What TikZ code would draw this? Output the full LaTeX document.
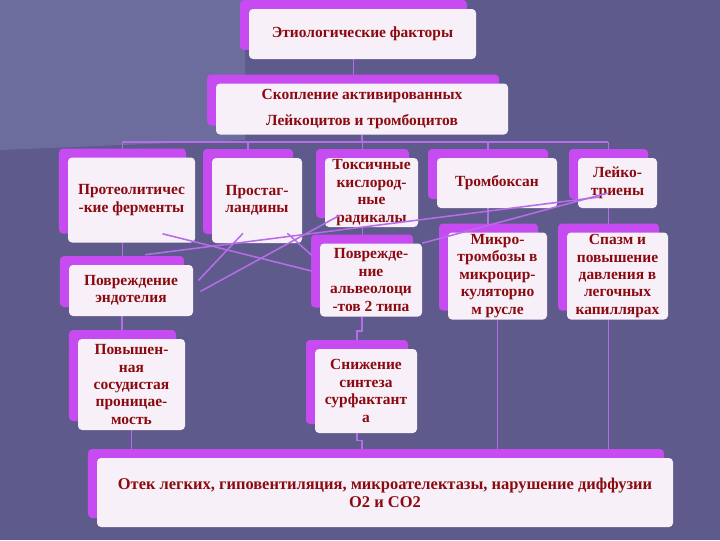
\documentclass[tikz,border=0pt]{standalone}
\usepackage{fontspec}
\setmainfont{Liberation Serif}
\usetikzlibrary{calc,shadows}

\definecolor{bgdark}{HTML}{5E5A8B}
\definecolor{bglight}{HTML}{6D6D9D}
\definecolor{platefill}{HTML}{C64BF0}
\definecolor{cardfill}{HTML}{F8F0F8}
\definecolor{ink}{HTML}{8A0A10}
\definecolor{wirecol}{HTML}{B76CE8}

\pgfdeclarelayer{bg}
\pgfdeclarelayer{wires}
\pgfsetlayers{bg,wires,main}

\tikzset{
  card/.style={draw=none, fill=cardfill, rounded corners=0.1cm, align=center,
    inner sep=0pt, text=ink, font=\fontsize{11}{12.4}\selectfont\bfseries,
    general shadow={fill=platefill, shadow xshift=-0.225cm, shadow yshift=0.225cm}},
  wh/.style 2 args={minimum width=#1*0.025cm, minimum height=#2*0.025cm},
  wire/.style={draw=wirecol, line width=1.1pt},
  pc/.style={xshift=-0.225cm},
}

\begin{document}
\begin{tikzpicture}[x=0.025cm,y=-0.025cm]
  \useasboundingbox (0,0) rectangle (720,540);
  \begin{pgfonlayer}{bg}
    \fill[bgdark] (0,0) rectangle (720,540);
    \fill[bglight] (0,0) -- (245,0) -- (245,140) -- (0,150) -- cycle;
  \end{pgfonlayer}

  % top of the chain
  \node[card, wh={227}{50}] (etio) at (362.5,34) {Этиологические факторы};
  \node[card, wh={292}{51}] (accum) at (362,109)
    {Скопление активированных\\[6pt]Лейкоцитов и тромбоцитов};

  % mediators
  \node[card, wh={127}{85}] (proteo) at (131.5,200) {Протеолитичес\\-кие ферменты};
  \node[card, wh={90}{85}]  (prosta) at (257,200.5) {Простаг-\\ландины};
  \node[card, wh={93}{69}]  (toxic)  at (371.5,192.5) {Токсичные\\кислород-\\ные\\радикалы};
  \node[card, wh={120}{50}] (tromb)  at (497,183) {Тромбоксан};
  \node[card, wh={79}{50}]  (leuko)  at (617.5,183) {Лейко-\\триены};

  % damage
  \node[card, wh={124}{51}] (endo)  at (131,290.5) {Повреждение\\эндотелия};
  \node[card, wh={102}{73}] (alveo) at (371,280) {Поврежде-\\ние\\альвеолоци\\-тов 2 типа};
  \node[card, wh={99}{87}]  (micro) at (497.5,276) {Микро-\\тромбозы в\\микроцир-\\куляторно\\м русле};
  \node[card, wh={101}{87}] (spasm) at (617.5,276) {Спазм и\\повышение\\давления в\\легочных\\капиллярах};

  \node[card, wh={107}{91}] (perm) at (131.5,384.5) {Повышен-\\ная\\сосудистая\\проницае-\\мость};
  \node[card, wh={102}{84}] (surf) at (366,391) {Снижение\\синтеза\\сурфактант\\а};

  \node[card, wh={576}{69}, font=\fontsize{11.7}{13}\selectfont\bfseries] (edema) at (385,492.5)
    {Отек легких, гиповентиляция, микроателектазы, нарушение диффузии\\О2 и СО2};

  % tree connectors behind the cards
  \begin{pgfonlayer}{wires}
    \coordinate (busL) at (122,142);
    \coordinate (busR) at (608,142);
    \draw[wire] ([pc]etio.south) -- ([pc]etio.south |- accum.north);
    \draw[wire] (busL) -- (busR);
    \draw[wire] (accum.south) -- (accum.south |- busL);
    \foreach \n in {proteo,prosta,toxic,tromb,leuko}
      \draw[wire] ([pc]\n.north) -- ([pc]\n.north |- busL);
    \draw[wire] ([pc]proteo.south) -- ([pc]proteo.south |- endo.north);
    \draw[wire] ([pc]endo.south) -- ([pc]endo.south |- perm.north);
    \draw[wire] ([pc]toxic.south) -- ([pc]toxic.south |- alveo.north);
    \draw[wire] ([pc]tromb.south) -- ([pc]tromb.south |- micro.north);
    \draw[wire] ([pc]leuko.south) -- ([pc]leuko.south |- spasm.north);
    \draw[wire] ([pc]alveo.south) -- ++(0,14) -| ([pc]surf.north);
    \draw[wire] ([pc]surf.south) -- ++(0,7) -- ++(5,0) coordinate (jog) -- (jog |- edema.north);
    \draw[wire] (perm.south) -- (perm.south |- edema.north);
    \draw[wire] (micro.south) -- (micro.south |- edema.north);
    \draw[wire] ([pc]spasm.south) -- ([pc]spasm.south |- edema.north);
  \end{pgfonlayer}

  % crossing links
  \draw[wire] ([shift={(31,-9)}]proteo.south) -- ([shift={(-8,-9)}]alveo.west);
  \draw[wire] ([shift={(14,-10)}]endo.north) -- ([shift={(-18,14)}]leuko.center);
  \draw[wire] (alveo.north east) -- ([shift={(-10,10)}]leuko.center);
  \draw[wire] ([shift={(-14,-10)}]prosta.south) -- ([shift={(5,-10)}]endo.east);
  \draw[wire] ([shift={(15,-12)}]toxic.south west) -- ([shift={(7,1)}]endo.east);
  \draw[wire] ([shift={(-15,-10)}]prosta.south east) -- ([shift={(-8,12)}]alveo.north west);
\end{tikzpicture}
\end{document}
